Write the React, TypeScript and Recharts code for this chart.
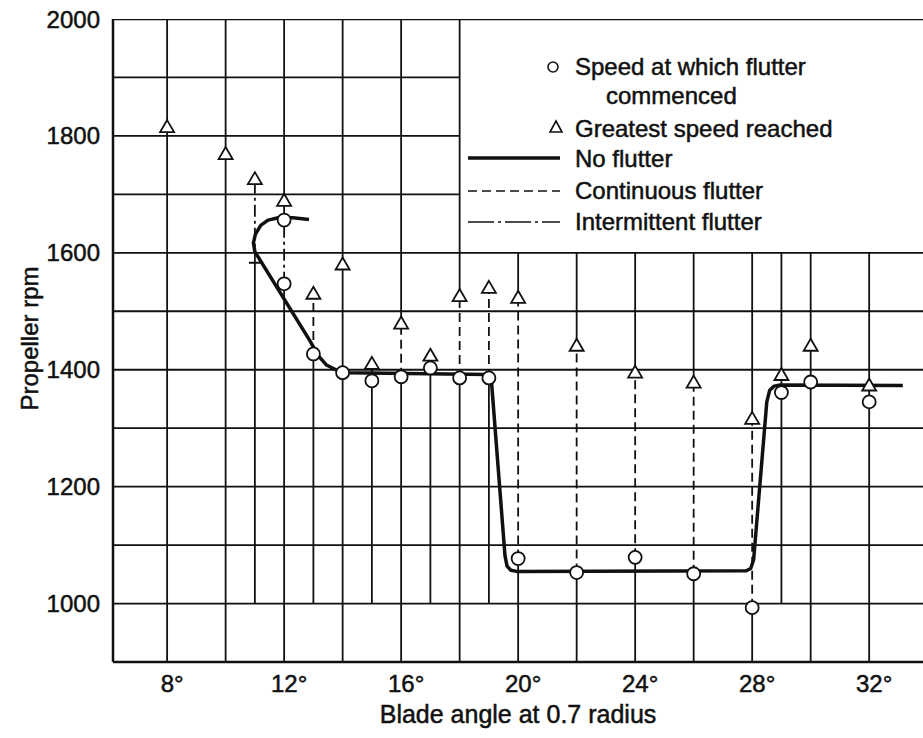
import { ComposedChart, Line, Scatter, XAxis, YAxis } from "recharts";

// axis ranges and ticks
const angleRange = [6.15, 33.84];
const rpmRange = [900, 2000];
const angleTicks = [8, 12, 16, 20, 24, 28, 32];
const rpmTicks = [1000, 1200, 1400, 1600, 1800, 2000];

// ruled lines of the sheet; the upper ones stop at the legend box (18°)
const fullRules = [1000, 1100, 1200, 1300, 1400, 1500, 1600, 2000];
const shortRules = [1700, 1800, 1900];
const legendEdgeAngle = 18;

// greatest speed reached (triangles)
const testAngles = [8, 10, 11, 12, 13, 14, 15, 16, 17, 18, 19, 20, 22, 24, 26, 28, 29, 30, 32];
const greatestSpeed = [1815, 1769, 1726, 1689, 1530, 1580, 1410, 1479, 1424, 1526, 1540, 1523, 1441, 1395, 1378, 1316, 1391, 1441, 1373];

// speed at which flutter commenced (circles)
const flutterAngles = [12, 12, 13, 14, 15, 16, 17, 18, 19, 20, 22, 24, 26, 28, 29, 30, 32];
const flutterRpm = [1656, 1547, 1427, 1395, 1381, 1388, 1403, 1386, 1386, 1077, 1053, 1079, 1051, 993, 1361, 1379, 1345];

// small cross-bar on the 11° run
const barAngles = [11];
const barRpm = [1583];

// vertical runs: [angle, from rpm, to rpm]
const solidRuns: [number, number, number][] = [
  [8, 900, 2000], [10, 900, 2000], [11, 1000, 1583], [12, 900, 1547], [12, 1689, 2000],
  [13, 1000, 1427], [14, 900, 2000], [15, 1000, 1410], [16, 900, 1388], [16, 1479, 2000],
  [17, 1000, 1424], [18, 900, 1386], [18, 1526, 2000], [19, 1000, 1386],
  [20, 900, 1077], [20, 1523, 1600], [22, 900, 1053], [22, 1441, 1600],
  [24, 900, 1079], [24, 1395, 1600], [26, 900, 1051], [26, 1378, 1600],
  [28, 900, 993], [28, 1316, 1600], [29, 1000, 1600], [30, 900, 1600], [32, 900, 1600],
];
const continuousRuns: [number, number, number][] = [
  [13, 1427, 1530], [16, 1388, 1479], [18, 1386, 1526], [19, 1386, 1540],
  [20, 1077, 1523], [22, 1053, 1441], [24, 1079, 1395], [26, 1051, 1378], [28, 993, 1316],
];
const intermittentRuns: [number, number, number][] = [
  [11, 1583, 1726], [12, 1547, 1689],
];

// no-flutter boundary curve
const boundaryAngle = [12.85, 12.3, 11.8, 11.45, 11.2, 11.02, 10.95, 11.0, 12.9, 13.15, 13.45, 13.8, 14.2, 18.95, 19.08, 19.55, 19.62, 19.75, 19.95, 27.8, 27.95, 28.05, 28.5, 28.6, 28.75, 28.95, 33.15];
const boundaryRpm = [1657, 1660, 1660, 1656, 1647, 1632, 1617, 1602, 1448, 1425, 1408, 1399, 1395, 1392, 1385, 1082, 1064, 1057, 1055, 1056, 1060, 1075, 1345, 1365, 1372, 1374, 1373];

const INK = "#111";
const FONT = "'Liberation Sans', Arial, Helvetica, sans-serif";
const DASH = "9 5";
const DASH_DOT = "12 4 3 4";
const RULE = 1.8;

const pts = (a: number[], r: number[]) => a.map((angle, i) => ({ angle, rpm: r[i] }));

const Triangle = (p: any) => (
  <polygon
    points={`${p.cx},${p.cy - 7} ${p.cx + 7},${p.cy + 5} ${p.cx - 7},${p.cy + 5}`}
    fill="#fff"
    stroke={INK}
    strokeWidth={1.8}
  />
);
const Ring = (p: any) => <circle cx={p.cx} cy={p.cy} r={6.5} fill="#fff" stroke={INK} strokeWidth={1.8} />;
const Bar = (p: any) => <line x1={p.cx - 6} x2={p.cx + 6} y1={p.cy} y2={p.cy} stroke={INK} strokeWidth={2} />;

function segment(key: string, a: [number, number][], width: number, dash?: string) {
  return (
    <Line
      key={key}
      data={a.map(([angle, rpm]) => ({ angle, rpm }))}
      dataKey="rpm"
      type="linear"
      stroke={INK}
      strokeWidth={width}
      strokeDasharray={dash}
      dot={false}
      activeDot={false}
      isAnimationActive={false}
      legendType="none"
    />
  );
}

function LegendBox() {
  const row = {
    position: "absolute" as const,
    left: 575,
    fontFamily: FONT,
    fontSize: 24,
    color: INK,
    lineHeight: "24px",
    whiteSpace: "nowrap" as const,
    WebkitTextStroke: "0.5px #111",
  };
  return (
    <>
      <svg width={923} height={738} style={{ position: "absolute", left: 0, top: 0, pointerEvents: "none" }}>
        <circle cx={553} cy={67} r={5} fill="#fff" stroke={INK} strokeWidth={1.6} />
        <polygon points="556,121 562,132 550,132" fill="#fff" stroke={INK} strokeWidth={1.6} />
        <line x1={468} x2={560} y1={158} y2={158} stroke={INK} strokeWidth={3.5} />
        <line x1={468} x2={560} y1={191} y2={191} stroke={INK} strokeWidth={1.7} strokeDasharray={DASH} />
        <line x1={468} x2={560} y1={222} y2={222} stroke={INK} strokeWidth={1.7} strokeDasharray="26 4 3 4" />
      </svg>
      <div style={{ ...row, top: 55 }}>Speed at which flutter</div>
      <div style={{ ...row, top: 84, left: 606 }}>commenced</div>
      <div style={{ ...row, top: 117 }}>Greatest speed reached</div>
      <div style={{ ...row, top: 147 }}>No flutter</div>
      <div style={{ ...row, top: 179 }}>Continuous flutter</div>
      <div style={{ ...row, top: 210 }}>Intermittent flutter</div>
    </>
  );
}

export default function App() {
  const tickStyle = { fontSize: 24, fill: INK, fontFamily: FONT, stroke: INK, strokeWidth: 0.5 };
  return (
    <div style={{ position: "absolute", left: 0, top: 0, width: 923, height: 738, background: "#fff" }}>
      <ComposedChart width={923} height={738} margin={{ top: 19, right: 0, bottom: 0, left: 0 }}>
        <XAxis
          type="number"
          dataKey="angle"
          domain={angleRange}
          allowDataOverflow
          ticks={angleTicks}
          tickFormatter={(v) => `${v}°`}
          tick={{ ...tickStyle, dx: 5 }}
          tickSize={0}
          tickMargin={13}
          height={76}
          axisLine={{ stroke: INK, strokeWidth: 2.5 }}
          label={{
            content: (p: any) => (
              <text
                x={p.viewBox.x + p.viewBox.width / 2}
                y={p.viewBox.y + 61}
                textAnchor="middle"
                fontSize={25}
                fontFamily={FONT}
                fill={INK}
                stroke={INK}
                strokeWidth={0.5}
              >
                Blade angle at 0.7 radius
              </text>
            ),
          }}
        />
        <YAxis
          type="number"
          dataKey="rpm"
          domain={rpmRange}
          allowDataOverflow
          ticks={rpmTicks}
          tick={tickStyle}
          tickSize={0}
          tickMargin={13}
          width={113}
          axisLine={{ stroke: INK, strokeWidth: 2.5 }}
          label={{
            content: (p: any) => {
              const x = p.viewBox.x + 29;
              const y = p.viewBox.y + p.viewBox.height / 2 - 2;
              return (
                <text
                  x={x}
                  y={y}
                  transform={`rotate(-90 ${x} ${y})`}
                  textAnchor="middle"
                  dominantBaseline="central"
                  fontSize={24}
                  fontFamily={FONT}
                  fill={INK}
                  stroke={INK}
                  strokeWidth={0.5}
                >
                  Propeller rpm
                </text>
              );
            },
          }}
        />
        {fullRules.map((r) => segment(`h${r}`, [[angleRange[0], r], [angleRange[1], r]], r === 2000 ? 2.3 : RULE))}
        {shortRules.map((r) => segment(`s${r}`, [[angleRange[0], r], [legendEdgeAngle, r]], RULE))}
        {solidRuns.map(([a, f, t], i) => segment(`r${i}`, [[a, f], [a, t]], RULE))}
        {continuousRuns.map(([a, f, t], i) => segment(`c${i}`, [[a, f], [a, t]], RULE, DASH))}
        {intermittentRuns.map(([a, f, t], i) => segment(`i${i}`, [[a, f], [a, t]], RULE, DASH_DOT))}
        <Line
          data={pts(boundaryAngle, boundaryRpm)}
          dataKey="rpm"
          type="linear"
          stroke={INK}
          strokeWidth={3.5}
          strokeLinejoin="round"
          dot={false}
          activeDot={false}
          isAnimationActive={false}
        />
        <Scatter data={pts(barAngles, barRpm)} dataKey="rpm" shape={Bar} isAnimationActive={false} />
        <Scatter data={pts(testAngles, greatestSpeed)} dataKey="rpm" shape={Triangle} isAnimationActive={false} />
        <Scatter data={pts(flutterAngles, flutterRpm)} dataKey="rpm" shape={Ring} isAnimationActive={false} />
      </ComposedChart>
      <LegendBox />
    </div>
  );
}
